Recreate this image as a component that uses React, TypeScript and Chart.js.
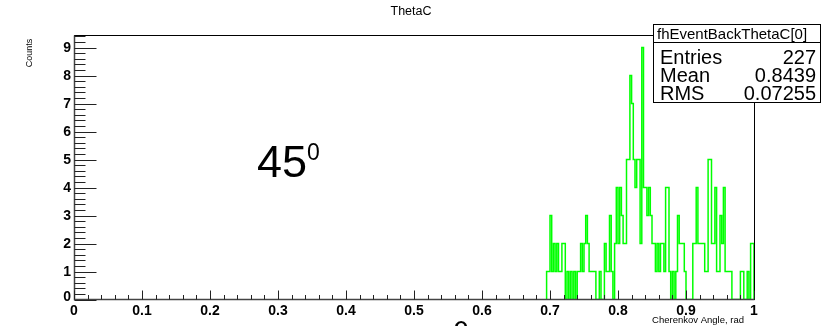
import React, { useEffect, useRef } from "react";
import { Chart, registerables } from "chart.js";

Chart.register(...registerables);

const BIN_START = 0.695;
const BIN_WIDTH = 0.0025;
const counts = [
  1, 1, 3, 1, 2, 1, 2, 1, 1, 2,
  2, 0, 1, 0, 1, 0, 1, 0, 1, 1,
  2, 1, 2, 3, 2, 1, 1, 1, 1, 0,
  0, 1, 0, 0, 2, 1, 1, 3, 1, 0,
  2, 4, 2, 4, 3, 2, 2, 5, 5, 8,
  7, 5, 4, 5, 5, 2, 9, 4, 4, 3,
  4, 3, 2, 2, 1, 2, 1, 2, 2, 1,
  4, 4, 1, 0, 1, 0, 1, 3, 2, 2,
  2, 1, 0, 0, 0, 0, 2, 2, 4, 2,
  2, 2, 2, 1, 1, 5, 5, 2, 2, 4,
  1, 1, 3, 2, 4, 1, 1, 1, 1, 0,
  0, 0, 0, 0, 1, 1, 0, 0, 1, 0,
  2, 2,
];
const xTicks = [0, 0.1, 0.2, 0.3, 0.4, 0.5, 0.6, 0.7, 0.8, 0.9, 1];
const xTickLabels = ["0", "0.1", "0.2", "0.3", "0.4", "0.5", "0.6", "0.7", "0.8", "0.9", "1"];
const yTicks = [0, 1, 2, 3, 4, 5, 6, 7, 8, 9];
const yTickLabels = ["0", "1", "2", "3", "4", "5", "6", "7", "8", "9"];
const statNames = ["Entries", "Mean", "RMS"];
const statValues = ["227", "0.8439", "0.07255"];
const statsTitle = "fhEventBackThetaC[0]";
const chartTitle = "ThetaC";
const xTitle = "Cherenkov Angle, rad";
const yTitle = "Counts";
const annotation = "45";
const annotationSup = "0";
const clippedGlyph = "θ";
const X_MIN = 0;
const X_MAX = 1;
const Y_MAX = 9.45;

const FONT = "'Liberation Sans', Arial, sans-serif";

const rootPlugin = {
  id: "rootStyle",
  afterDatasetsDraw(chart: any) {
    const ctx = chart.ctx as CanvasRenderingContext2D;
    const xs = chart.scales.x;
    const ys = chart.scales.y;
    const area = chart.chartArea;
    const L = Math.round(area.left) + 0.5;
    const R = Math.round(area.right) + 0.5;
    const T = Math.round(area.top) + 0.5;
    const B = Math.round(area.bottom) - 0.5;
    ctx.save();
    // frame
    ctx.strokeStyle = "#000";
    ctx.lineWidth = 1;
    ctx.strokeRect(L, T, R - L, B - T);
    // axes (slightly heavier)
    ctx.strokeStyle = "#444";
    ctx.lineWidth = 1.5;
    ctx.beginPath();
    ctx.moveTo(L, T);
    ctx.lineTo(L, B);
    ctx.lineTo(R, B);
    ctx.stroke();
    // y ticks
    ctx.lineWidth = 1;
    ctx.strokeStyle = "#222";
    ctx.beginPath();
    for (let k = 0; k <= Math.floor(Y_MAX * 5 + 1e-6); k++) {
      const v = k / 5;
      const py = Math.round(ys.getPixelForValue(v)) + 0.5;
      const len = k % 5 === 0 ? 22 : 11;
      ctx.moveTo(L, py);
      ctx.lineTo(L + len, py);
    }
    // x ticks
    for (let k = 0; k <= 50; k++) {
      const v = k / 50;
      const px = Math.round(xs.getPixelForValue(v)) + 0.5;
      const len = k % 5 === 0 ? 9 : 4.5;
      ctx.moveTo(px, B);
      ctx.lineTo(px, B - len);
    }
    ctx.stroke();

    // tick labels
    ctx.fillStyle = "#000";
    ctx.font = `bold 14px ${FONT}`;
    ctx.textAlign = "right";
    ctx.textBaseline = "middle";
    yTicks.forEach((v, i) => {
      const py = ys.getPixelForValue(v) + (v === 0 ? -2.5 : 0.5);
      ctx.fillText(yTickLabels[i], 71, py);
    });
    ctx.textAlign = "center";
    ctx.textBaseline = "alphabetic";
    xTicks.forEach((v, i) => {
      const px = xs.getPixelForValue(v);
      ctx.fillText(xTickLabels[i], px, 315);
    });

    // title
    ctx.font = `12.5px ${FONT}`;
    ctx.textAlign = "center";
    ctx.fillText(chartTitle, 411, 15);

    // axis titles
    ctx.font = `9.5px ${FONT}`;
    ctx.textAlign = "right";
    ctx.fillText(xTitle, 744, 323);
    ctx.save();
    ctx.translate(32, 53);
    ctx.rotate(-Math.PI / 2);
    ctx.font = `9px ${FONT}`;
    ctx.textAlign = "center";
    ctx.fillText(yTitle, 0, 0);
    ctx.restore();

    // clipped large glyph at the bottom edge
    ctx.font = `30px ${FONT}`;
    ctx.textAlign = "center";
    ctx.fillText(clippedGlyph, 461, 343);

    // annotation 45^0
    ctx.textAlign = "left";
    ctx.font = `45px ${FONT}`;
    ctx.fillText(annotation, 257, 177);
    ctx.font = `23px ${FONT}`;
    ctx.fillText(annotationSup, 307, 160);

    // stats box
    const bx = 653.5, by = 24.5, bw = 167, bh = 78;
    ctx.fillStyle = "#fff";
    ctx.fillRect(bx, by, bw, bh);
    ctx.strokeStyle = "#000";
    ctx.lineWidth = 1;
    ctx.strokeRect(bx, by, bw, bh);
    ctx.beginPath();
    ctx.moveTo(bx, 42.5);
    ctx.lineTo(bx + bw, 42.5);
    ctx.stroke();
    ctx.fillStyle = "#000";
    ctx.font = `15px ${FONT}`;
    ctx.textAlign = "left";
    ctx.fillText(statsTitle, 657, 39);
    ctx.font = `20px ${FONT}`;
    statNames.forEach((n, i) => {
      const yy = 64 + i * 18;
      ctx.textAlign = "left";
      ctx.fillText(n, 660, yy);
      ctx.textAlign = "right";
      ctx.fillText(statValues[i], 816, yy);
    });
    ctx.restore();
  },
};

export default function App() {
  const ref = useRef<HTMLCanvasElement | null>(null);
  useEffect(() => {
    if (!ref.current) return;
    const points: { x: number; y: number }[] = [{ x: BIN_START, y: 0 }];
    counts.forEach((c, i) => points.push({ x: BIN_START + i * BIN_WIDTH, y: c }));
    points.push({ x: BIN_START + counts.length * BIN_WIDTH, y: 0 });
    const chart = new Chart(ref.current, {
      type: "line",
      data: {
        datasets: [
          {
            data: points,
            borderColor: "#00ff00",
            borderWidth: 1.5,
            stepped: true,
            pointRadius: 0,
            fill: false,
          },
        ],
      },
      options: {
        animation: false,
        responsive: false,
        devicePixelRatio: 1,
        layout: { padding: { left: 74, right: 67, top: 35, bottom: 26.5 } },
        plugins: { legend: { display: false }, tooltip: { enabled: false }, title: { display: false } },
        scales: {
          x: { type: "linear", min: X_MIN, max: X_MAX, display: false },
          y: { type: "linear", min: 0, max: Y_MAX, display: false },
        },
      },
      plugins: [rootPlugin],
    });
    return () => chart.destroy();
  }, []);
  return (
    <div style={{ position: "absolute", left: 0, top: 0, width: 821, height: 326, background: "#fff" }}>
      <canvas ref={ref} width={821} height={326} style={{ display: "block" }} />
    </div>
  );
}
